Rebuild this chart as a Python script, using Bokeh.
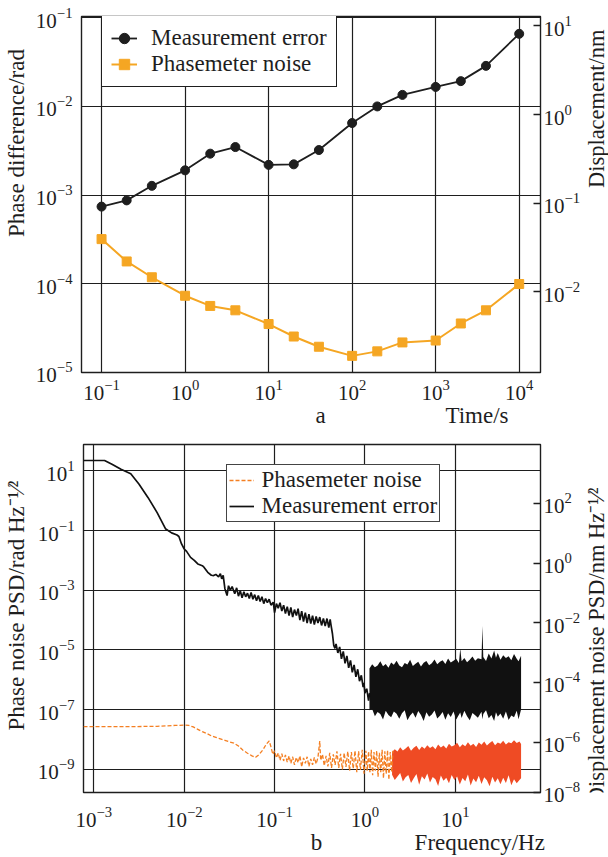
import math
from bokeh.plotting import figure
from bokeh.models import (Range1d, LogScale, LinearScale, LogAxis, LinearAxis, FixedTicker,
                          Legend, LegendItem)
from bokeh.core.properties import value
from bokeh.layouts import column, row
from bokeh.embed import file_html
from bokeh.resources import INLINE

SERIF = "Liberation Serif"
INK = "#1e1e1e"
ORANGE_A = "#F5A623"
PM_LINE = "#F47F22"
PM_BAND = "#EF4B24"
K_NM = 1550.0 / (4 * math.pi)   # rad -> nm

# ---------------- panel a : Allan-type time series ----------------
time_s = [0.1, 0.2, 0.4, 1, 2, 4, 10, 20, 40, 100, 200, 400, 1000, 2000, 4000, 10000]
meas_err = [7.4e-4, 8.7e-4, 1.27e-3, 1.90e-3, 2.93e-3, 3.48e-3, 2.19e-3, 2.22e-3,
            3.22e-3, 6.5e-3, 1.0e-2, 1.35e-2, 1.66e-2, 1.93e-2, 2.87e-2, 6.6e-2]
pm_noise = [3.18e-4, 1.78e-4, 1.18e-4, 7.3e-5, 5.6e-5, 5.0e-5, 3.5e-5, 2.53e-5,
            1.94e-5, 1.53e-5, 1.72e-5, 2.17e-5, 2.28e-5, 3.55e-5, 5.0e-5, 9.9e-5]
ticks_a_x = [0.1, 1, 10, 100, 1000, 10000]
ticks_a_y = [1e-5, 1e-4, 1e-3, 1e-2, 1e-1]
ticks_a_r = [1e-2, 1e-1, 1, 10]

# ---------------- panel b : PSD (log10 values) ----------------
meas_logf = [-3.115, -2.882, -2.80, -2.70, -2.592, -2.50, -2.40, -2.30, -2.208, -2.14,
             -2.08, -2.059, -2.03, -2.00, -1.974, -1.93, -1.889, -1.85, -1.80, -1.782,
             -1.74, -1.70, -1.675, -1.65, -1.62, -1.60, -1.585, -1.569, -1.55, -1.526,
             -1.51, -1.49, -1.47, -1.441, -1.42, -1.40, -1.38, -1.36, -1.34, -1.32,
             -1.30, -1.28, -1.26, -1.24, -1.22, -1.20, -1.18, -1.16, -1.14, -1.12,
             -1.10, -1.08, -1.06, -1.04, -1.015, -1.00, -0.98, -0.96, -0.94, -0.92,
             -0.90, -0.88, -0.86, -0.84, -0.82, -0.80, -0.78, -0.759, -0.74, -0.72,
             -0.70, -0.68, -0.66, -0.64, -0.62, -0.60, -0.58, -0.56, -0.54, -0.52,
             -0.50, -0.48, -0.46, -0.44, -0.42, -0.40, -0.385, -0.375, -0.36, -0.345,
             -0.332, -0.32, -0.30, -0.28, -0.26, -0.24, -0.22, -0.20, -0.18, -0.16,
             -0.14, -0.12, -0.10, -0.08, -0.06, -0.04, -0.02, -0.012, 0.00, 0.02,
             0.04, 0.052]
meas_logv = [1.345, 1.345, 1.22, 1.05, 0.90, 0.55, 0.10, -0.40, -0.94, -1.08,
             -1.15, -1.20, -1.45, -1.62, -1.70, -1.90, -2.00, -2.12, -2.18, -2.23,
             -2.40, -2.50, -2.51, -2.47, -2.55, -2.45, -2.62, -2.50, -2.95, -3.18,
             -2.85, -3.00, -2.88, -3.12, -2.92, -3.20, -3.02, -3.25, -3.05, -3.22,
             -3.10, -3.28, -3.08, -3.30, -3.15, -3.35, -3.18, -3.38, -3.22, -3.45,
             -3.28, -3.42, -3.30, -3.50, -3.40, -3.75, -3.45, -3.60, -3.42, -3.70,
             -3.50, -3.78, -3.55, -3.85, -3.58, -3.90, -3.65, -3.85, -3.62, -4.00,
             -3.70, -4.05, -3.75, -4.10, -3.80, -4.12, -3.85, -4.15, -3.88, -4.10,
             -3.90, -4.18, -3.95, -4.20, -3.95, -4.25, -3.98, -4.18, -4.45, -4.85,
             -4.95, -4.80, -5.10, -4.90, -5.30, -5.05, -5.45, -5.20, -5.60, -5.35,
             -5.75, -5.50, -5.90, -5.65, -6.05, -5.85, -6.25, -6.10, -6.45, -6.30,
             -6.70, -6.45]
band_logf = [0.05, 0.08, 0.11, 0.14, 0.17, 0.20, 0.23, 0.26, 0.29, 0.32,
             0.35, 0.38, 0.41, 0.44, 0.47, 0.50, 0.53, 0.56, 0.59, 0.62,
             0.65, 0.68, 0.71, 0.74, 0.77, 0.80, 0.83, 0.86, 0.89, 0.92,
             0.95, 0.98, 1.01, 1.04, 1.055, 1.07, 1.10, 1.13, 1.16, 1.19,
             1.22, 1.25, 1.29, 1.30, 1.31, 1.34, 1.37, 1.40, 1.43, 1.45,
             1.47, 1.50, 1.53, 1.56, 1.59, 1.62, 1.65, 1.68, 1.70, 1.728]
band_hi = [-5.62, -5.48, -5.58, -5.52, -5.38, -5.55, -5.47, -5.60, -5.42, -5.50,
           -5.36, -5.52, -5.58, -5.44, -5.49, -5.33, -5.54, -5.46, -5.40, -5.56,
           -5.43, -5.37, -5.51, -5.45, -5.32, -5.48, -5.40, -5.35, -5.47, -5.29,
           -5.42, -5.36, -5.30, -5.44, -4.95, -5.38, -5.27, -5.41, -5.33, -5.22,
           -5.36, -5.28, -5.31, -4.20, -5.24, -5.37, -5.12, -5.29, -5.02, -5.26,
           -5.10, -5.33, -5.18, -5.27, -5.21, -5.35, -5.14, -5.30, -5.38, -5.20]
band_lo = [-7.02, -6.98, -7.22, -7.08, -7.15, -7.33, -7.04, -7.18, -7.26, -7.06,
           -7.14, -7.31, -7.12, -7.02, -7.36, -7.20, -7.10, -7.27, -7.05, -7.18,
           -7.38, -7.09, -7.24, -7.16, -7.03, -7.30, -7.21, -7.08, -7.34, -7.12,
           -7.25, -7.06, -7.33, -7.17, -7.10, -7.28, -7.04, -7.22, -7.36, -7.11,
           -7.19, -7.27, -7.07, -7.32, -7.15, -7.02, -7.29, -7.18, -7.38, -7.09,
           -7.24, -7.13, -7.31, -7.06, -7.35, -7.20, -7.26, -7.04, -7.32, -7.00]
pm_logf = [-3.115, -2.60, -2.30, -2.10, -2.00, -1.95, -1.90, -1.85, -1.80, -1.75,
           -1.70, -1.65, -1.60, -1.55, -1.50, -1.45, -1.40, -1.35, -1.30, -1.25,
           -1.21, -1.17, -1.13, -1.09, -1.06, -1.04, -1.02, -1.00, -0.98, -0.96,
           -0.94, -0.92, -0.90, -0.88, -0.86, -0.84, -0.82, -0.80, -0.78, -0.76,
           -0.74, -0.72, -0.70, -0.68, -0.66, -0.64, -0.62, -0.60, -0.58, -0.56,
           -0.54, -0.52, -0.50, -0.49, -0.47, -0.45, -0.43, -0.41, -0.39, -0.37,
           -0.35, -0.33, -0.31, -0.29, -0.27, -0.25, -0.23, -0.21, -0.19, -0.17,
           -0.15, -0.13, -0.11, -0.09, -0.07, -0.05, -0.03, -0.01, 0.01, 0.025,
           0.04, 0.055, 0.07, 0.085, 0.10, 0.115, 0.13, 0.145, 0.16, 0.175,
           0.19, 0.205, 0.22, 0.235, 0.25, 0.265, 0.28, 0.295, 0.31]
pm_logv = [-7.57, -7.57, -7.56, -7.53, -7.52, -7.53, -7.58, -7.66, -7.74, -7.80,
           -7.88, -7.93, -7.98, -8.03, -8.08, -8.12, -8.22, -8.36, -8.46, -8.55,
           -8.60, -8.50, -8.35, -8.15, -8.05, -8.25, -8.50, -8.38, -8.62, -8.45,
           -8.70, -8.48, -8.72, -8.52, -8.76, -8.55, -8.80, -8.58, -8.85, -8.60,
           -8.78, -8.55, -8.92, -8.62, -8.80, -8.58, -8.90, -8.65, -8.85, -8.60,
           -8.82, -8.60, -8.05, -8.70, -8.50, -8.88, -8.55, -8.90, -8.45, -8.95,
           -8.50, -8.85, -8.40, -8.95, -8.48, -9.00, -8.45, -8.92, -8.40, -9.05,
           -8.42, -8.98, -8.38, -9.10, -8.40, -9.02, -8.35, -9.15, -8.38, -9.05,
           -8.40, -9.10, -8.35, -9.20, -8.42, -9.05, -8.38, -9.25, -8.45, -9.10,
           -8.35, -9.30, -8.40, -9.15, -8.36, -9.35, -8.42, -9.10, -8.38]
pmb_logf = [0.30, 0.33, 0.36, 0.39, 0.42, 0.45, 0.48, 0.51, 0.54, 0.57,
            0.60, 0.63, 0.66, 0.69, 0.72, 0.75, 0.78, 0.81, 0.84, 0.87,
            0.90, 0.93, 0.96, 0.99, 1.02, 1.05, 1.08, 1.11, 1.14, 1.17,
            1.20, 1.23, 1.26, 1.29, 1.32, 1.35, 1.38, 1.41, 1.44, 1.47,
            1.50, 1.53, 1.56, 1.59, 1.62, 1.65, 1.68, 1.71, 1.728]
pmb_hi = [-8.42, -8.33, -8.40, -8.26, -8.37, -8.30, -8.22, -8.38, -8.28, -8.21,
          -8.35, -8.24, -8.31, -8.19, -8.29, -8.23, -8.33, -8.17, -8.27, -8.20,
          -8.30, -8.14, -8.24, -8.19, -8.11, -8.26, -8.16, -8.23, -8.09, -8.21,
          -8.14, -8.25, -8.10, -8.18, -8.07, -8.20, -8.12, -8.05, -8.19, -8.10,
          -8.14, -8.04, -8.17, -8.09, -8.13, -8.03, -8.12, -8.07, -8.15]
pmb_lo = [-9.18, -9.36, -9.24, -9.12, -9.41, -9.27, -9.19, -9.46, -9.30, -9.16,
          -9.52, -9.23, -9.34, -9.14, -9.44, -9.26, -9.33, -9.56, -9.21, -9.38,
          -9.28, -9.47, -9.19, -9.36, -9.24, -9.51, -9.29, -9.40, -9.17, -9.54,
          -9.31, -9.43, -9.22, -9.49, -9.27, -9.37, -9.57, -9.25, -9.44, -9.30,
          -9.50, -9.28, -9.46, -9.20, -9.53, -9.33, -9.47, -9.36, -9.30]
ticks_b_x = [1e-3, 1e-2, 1e-1, 1, 10]
ticks_b_y = [1e1, 1e-1, 1e-3, 1e-5, 1e-7, 1e-9]
ticks_b_r = [1e2, 1, 1e-2, 1e-4, 1e-6]

# texts
label_a_left = "Phase difference/rad"
label_a_right = "Displacement/nm"
label_a_x = "Time/s"
caption_a = "a"
label_b_left = "Phase noise PSD/rad Hz\u207b\u00b9\u2044\u00b2"
label_b_right = "Displacement noise PSD/nm Hz\u207b\u00b9\u2044\u00b2"
label_b_x = "Frequency/Hz"
caption_b = "b"

MAIN_W = 583      # canvas width of each main figure
SIDE_W = 608 - MAIN_W   # strip carrying the right-hand axis titles
FW = 459          # frame width (px)
RIGHT_B = MAIN_W - 81 - FW
FH_A = 356        # frame heights (px)
FH_B = 348
H_A = 436
H_B = 421


def pw(a):
    return [10.0 ** v for v in a]


def style_frame(p):
    p.outline_line_color = INK
    p.outline_line_width = 1.4
    p.outline_line_alpha = 1.0
    p.background_fill_color = "white"
    p.border_fill_color = "white"


def style_axis(ax, standoff, tick_in=0, size="21px"):
    ax.major_label_text_font = SERIF
    ax.major_label_text_font_size = size
    ax.major_label_text_color = INK
    ax.major_label_standoff = standoff
    ax.major_tick_in = tick_in
    ax.major_tick_out = 0
    ax.major_tick_line_color = INK
    ax.major_tick_line_width = 1.3
    ax.minor_tick_line_color = None
    ax.axis_line_color = None


def style_grid(g, ticker):
    g.ticker = ticker
    g.grid_line_color = INK
    g.grid_line_width = 1.2
    g.grid_line_alpha = 1.0
    g.minor_grid_line_color = None


def text_axis(p, dim, name, side, positions, texts, standoff, size="23px", orient=None):
    """Axis without line/ticks that only carries text at given frame-pixel positions."""
    if dim == "x":
        ax = LinearAxis(x_range_name=name)
    else:
        ax = LinearAxis(y_range_name=name)
    ax.ticker = FixedTicker(ticks=positions)
    ax.major_label_overrides = {pos: t for pos, t in zip(positions, texts)}
    style_axis(ax, standoff, size=size)
    ax.major_tick_line_color = None
    if orient is not None:
        ax.major_label_orientation = orient
    p.add_layout(ax, side)
    return ax


def side_strip(height, mid_x, pos_y, text, size, align):
    """Narrow canvas right of a panel; its whole area is the frame, holding the axis title."""
    f = figure(width=SIDE_W, height=height, x_range=Range1d(0, SIDE_W), y_range=Range1d(0, height),
               x_axis_type=None, y_axis_type=None, min_border=0,
               min_border_left=0, min_border_right=0, min_border_top=0, min_border_bottom=0,
               output_backend="svg", toolbar_location=None)
    f.outline_line_color = None
    f.background_fill_color = "white"
    f.border_fill_color = "white"
    f.text(x=[mid_x], y=[pos_y], text=[text], angle=math.pi / 2,
           text_align=align, text_baseline="middle",
           text_font=value(SERIF), text_font_size=value(size), text_color=INK)
    return f


# ================= panel a =================
XA = (-1.24, 4.255)
YA = (-5.003, -0.985)
pa = figure(width=MAIN_W, height=H_A, x_axis_type="log", y_axis_type="log",
            x_range=Range1d(10 ** XA[0], 10 ** XA[1]),
            y_range=Range1d(10 ** YA[0], 10 ** YA[1]),
            min_border_left=81, min_border_right=RIGHT_B, min_border_top=16,
            min_border_bottom=64, output_backend="svg", toolbar_location=None)
style_frame(pa)
tx_a = FixedTicker(ticks=ticks_a_x)
ty_a = FixedTicker(ticks=ticks_a_y)
pa.below[0].ticker = tx_a
pa.left[0].ticker = ty_a
style_axis(pa.below[0], 7)
style_axis(pa.left[0], 9)
style_grid(pa.xgrid[0], tx_a)
style_grid(pa.ygrid[0], ty_a)
pa.extra_y_ranges = {"disp": Range1d(10 ** YA[0] * K_NM, 10 ** YA[1] * K_NM),
                     "lab": Range1d(0, FH_A)}
pa.extra_y_scales = {"disp": LogScale(), "lab": LinearScale()}
pa.extra_x_ranges = {"lab": Range1d(0, FW)}
pa.extra_x_scales = {"lab": LinearScale()}
ax_ra = LogAxis(y_range_name="disp", ticker=FixedTicker(ticks=ticks_a_r))
style_axis(ax_ra, 3, tick_in=7)
pa.add_layout(ax_ra, "right")

la1 = pa.line(time_s, meas_err, line_color=INK, line_width=1.8)
sa1 = pa.scatter(time_s, meas_err, marker="circle", size=9, fill_color=INK, line_color=INK)
la2 = pa.line(time_s, pm_noise, line_color=ORANGE_A, line_width=2)
sa2 = pa.scatter(time_s, pm_noise, marker="square", size=9, fill_color=ORANGE_A, line_color=ORANGE_A)

leg_a = Legend(items=[LegendItem(label="Measurement error", renderers=[la1, sa1]),
                      LegendItem(label="Phasemeter noise", renderers=[la2, sa2])],
               location=(20, FH_A - 71), padding=9, spacing=0, margin=0,
               label_height=26, glyph_height=26, glyph_width=26, label_standoff=14,
               label_text_font=SERIF, label_text_font_size="23px", label_text_color=INK,
               border_line_color=INK, border_line_width=1.3, border_line_alpha=1.0,
               background_fill_color="white", background_fill_alpha=1.0)
pa.add_layout(leg_a)

text_axis(pa, "y", "lab", "left", [229.5], [label_a_left], 4, orient="vertical")
text_axis(pa, "x", "lab", "below", [239.0, 395.5], [caption_a, label_a_x], 0)
sa = side_strip(H_A, 12.5, H_A - 113.0, label_a_right, "22.5px", "center")

# ================= panel b =================
XB = (-3.115, 1.943)
YB = (-9.777, 1.881)
pb = figure(width=MAIN_W, height=H_B, x_axis_type="log", y_axis_type="log",
            x_range=Range1d(10 ** XB[0], 10 ** XB[1]),
            y_range=Range1d(10 ** YB[0], 10 ** YB[1]),
            min_border_left=81, min_border_right=RIGHT_B, min_border_top=8,
            min_border_bottom=65, output_backend="svg", toolbar_location=None)
style_frame(pb)
tx_b = FixedTicker(ticks=ticks_b_x)
ty_b = FixedTicker(ticks=ticks_b_y)
pb.below[0].ticker = tx_b
pb.left[0].ticker = ty_b
style_axis(pb.below[0], 14)
style_axis(pb.left[0], 9)
style_grid(pb.xgrid[0], tx_b)
style_grid(pb.ygrid[0], ty_b)
r_lo = 10 ** YB[0] * K_NM
pb.extra_y_ranges = {"disp": Range1d(r_lo, 10 ** YB[1] * K_NM), "lab": Range1d(0, FH_B)}
pb.extra_y_scales = {"disp": LogScale(), "lab": LinearScale()}
pb.extra_x_ranges = {"lab": Range1d(0, FW)}
pb.extra_x_scales = {"lab": LinearScale()}
ax_rb = LogAxis(y_range_name="disp", ticker=FixedTicker(ticks=ticks_b_r + [r_lo * 1.01]))
style_axis(ax_rb, 3, tick_in=7)
pb.add_layout(ax_rb, "right")

pb.varea(x=pw(band_logf), y1=pw(band_lo), y2=pw(band_hi), fill_color="#111111")
lb_meas = pb.line(pw(meas_logf), pw(meas_logv), line_color="#111111", line_width=1.7)
pb.varea(x=pw(pmb_logf), y1=pw(pmb_lo), y2=pw(pmb_hi), fill_color=PM_BAND)
lb_pm = pb.line(pw(pm_logf), pw(pm_logv), line_color=PM_LINE, line_width=1.3, line_dash="4 2")

leg_b = Legend(items=[LegendItem(label="Phasemeter noise", renderers=[lb_pm]),
                      LegendItem(label="Measurement error", renderers=[lb_meas])],
               location=(142.5, FH_B - 22 - 56), padding=2, spacing=0, margin=0,
               label_height=26, glyph_height=26, glyph_width=25, label_standoff=8,
               label_text_font=SERIF, label_text_font_size="23px", label_text_color=INK,
               border_line_color="#444444", border_line_width=1.3, border_line_alpha=1.0,
               background_fill_color="white", background_fill_alpha=1.0)
pb.add_layout(leg_b)

text_axis(pb, "y", "lab", "left", [187.0], [label_b_left], 6, orient="vertical")
text_axis(pb, "x", "lab", "below", [234.0, 398.0], [caption_b, label_b_x], 0)
sb = side_strip(H_B, 12.5, H_B - (488.0 - H_A), label_b_right, "22.5px", "right")

layout = column(row(pa, sa), row(pb, sb))
open("out.html", "w").write(file_html(layout, INLINE))
